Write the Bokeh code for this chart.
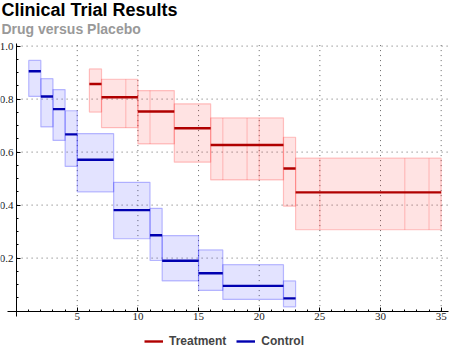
from bokeh.plotting import figure
from bokeh.models import FixedTicker, Label, Legend, LegendItem, ColumnDataSource, Range1d
from bokeh.embed import file_html
from bokeh.resources import INLINE

# ---- data (Kaplan-Meier estimates with confidence bands) ----
ctrl_start = [1, 2, 3, 4, 5, 8, 11, 12, 15, 17, 22]
ctrl_end = [2, 3, 4, 5, 8, 11, 12, 15, 17, 22, 23]
ctrl_surv = [0.905, 0.810, 0.762, 0.667, 0.571, 0.381, 0.286, 0.190, 0.143, 0.095, 0.048]
ctrl_lower = [0.810, 0.695, 0.644, 0.546, 0.450, 0.273, 0.191, 0.114, 0.078, 0.044, 0.016]
ctrl_upper = [0.946, 0.877, 0.836, 0.756, 0.670, 0.486, 0.388, 0.285, 0.231, 0.175, 0.114]

trt_start = [6, 7, 10, 13, 16, 22, 23]
trt_end = [7, 10, 13, 16, 22, 23, 35]
trt_surv = [0.857, 0.807, 0.753, 0.690, 0.627, 0.538, 0.448]
trt_lower = [0.751, 0.692, 0.631, 0.562, 0.495, 0.396, 0.307]
trt_upper = [0.914, 0.875, 0.832, 0.782, 0.729, 0.656, 0.577]
trt_censor = [9, 11, 17, 19, 20, 25, 32, 34]

x_ticks = [5, 10, 15, 20, 25, 30, 35]
y_ticks = [0.2, 0.4, 0.6, 0.8, 1.0]
y_tick_labels = ["0.2", "0.4", "0.6", "0.8", "1.0"]

series_names = ["Treatment", "Control"]
title_text = "Clinical Trial Results"
subtitle_text = "Drug versus Placebo"

RED = "#b00000"
BLUE = "#0000b0"

# plotting window (axes cross at the origin)
X_MIN, X_MAX = -0.75, 35.6
Y_MIN, Y_MAX = -0.02, 1.01

# the frame fills the whole canvas; titles and legend live inside it
p = figure(width=450, height=354, output_backend="svg", toolbar_location=None,
           x_range=Range1d(-1.327, 35.77), y_range=Range1d(-0.1638, 1.1721),
           min_border_left=0, min_border_right=0, min_border_top=0, min_border_bottom=0)
p.title.visible = False
p.outline_line_color = None
p.background_fill_color = "white"
p.xgrid.visible = False
p.ygrid.visible = False

# dotted grid lines, limited to the plotting window
p.segment(x0=x_ticks, y0=[0] * len(x_ticks), x1=x_ticks, y1=[Y_MAX] * len(x_ticks),
          line_color="#666666", line_dash="1 4", line_width=1)
p.segment(x0=[0] * len(y_ticks), y0=y_ticks, x1=[X_MAX] * len(y_ticks), y1=y_ticks,
          line_color="#666666", line_dash="1 4", line_width=1)

# confidence bands
ctrl_src = ColumnDataSource(dict(l=ctrl_start, r=ctrl_end, s=ctrl_surv, lo=ctrl_lower, hi=ctrl_upper))
trt_src = ColumnDataSource(dict(l=trt_start, r=trt_end, s=trt_surv, lo=trt_lower, hi=trt_upper))

p.quad(left="l", right="r", bottom="lo", top="hi", source=ctrl_src,
       fill_color="blue", fill_alpha=0.11, line_color="blue", line_alpha=0.25, line_width=1.2)
p.quad(left="l", right="r", bottom="lo", top="hi", source=trt_src,
       fill_color="red", fill_alpha=0.11, line_color="red", line_alpha=0.22, line_width=1.2)

# censoring marks on treatment band
def band_at(t, starts, ends, lows, highs):
    for s, e, lo, hi in zip(starts, ends, lows, highs):
        if s <= t < e:
            return lo, hi
    return lows[-1], highs[-1]

cx, clo, chi = [], [], []
for t in trt_censor:
    lo, hi = band_at(t, trt_start, trt_end, trt_lower, trt_upper)
    cx.append(t); clo.append(lo); chi.append(hi)
p.segment(x0=cx, y0=clo, x1=cx, y1=chi, line_color="red", line_alpha=0.18, line_width=1.2)

# estimates
r_ctrl = p.segment(x0="l", y0="s", x1="r", y1="s", source=ctrl_src, line_color=BLUE, line_width=2.4)
r_trt = p.segment(x0="l", y0="s", x1="r", y1="s", source=trt_src, line_color=RED, line_width=2.4)

# axes crossing at the origin
for ax in (p.xaxis[0], p.yaxis[0]):
    ax.fixed_location = 0
    ax.axis_line_color = "black"
    ax.axis_line_width = 1
    ax.major_tick_in = 4
    ax.major_tick_out = 0
    ax.minor_tick_in = 2
    ax.minor_tick_out = 0
    ax.major_tick_line_color = "black"
    ax.minor_tick_line_color = "black"
    ax.major_label_text_font = "Liberation Serif"
    ax.major_label_text_font_size = "11px"
    ax.major_label_text_color = "#222222"
    ax.major_label_standoff = 3
p.xaxis[0].bounds = (X_MIN, X_MAX)
p.yaxis[0].bounds = (Y_MIN, Y_MAX)
p.xaxis[0].major_label_standoff = 2

p.xaxis[0].ticker = FixedTicker(ticks=x_ticks, minor_ticks=list(range(1, 36)))
p.yaxis[0].ticker = FixedTicker(ticks=y_ticks, minor_ticks=[round(i * 0.05, 2) for i in range(1, 21)])
p.yaxis[0].major_label_overrides = {t: s for t, s in zip(y_ticks, y_tick_labels)}

# titles
p.add_layout(Label(x=1, y=344.5, x_units="screen", y_units="screen", text=title_text,
                   text_font="Liberation Sans", text_font_style="bold", text_font_size="18px",
                   text_color="black", text_baseline="alphabetic"))
p.add_layout(Label(x=1, y=326, x_units="screen", y_units="screen", text=subtitle_text,
                   text_font="Liberation Sans", text_font_style="bold", text_font_size="14px",
                   text_color="#999999", text_baseline="alphabetic"))

legend = Legend(items=[LegendItem(label=series_names[0], renderers=[r_trt]),
                       LegendItem(label=series_names[1], renderers=[r_ctrl])],
                orientation="horizontal", location=(144, 6),
                border_line_color=None, background_fill_alpha=0,
                label_text_font="Liberation Sans", label_text_font_style="bold",
                label_text_font_size="12px", glyph_width=19, glyph_height=14,
                label_height=14, label_standoff=6,
                spacing=10, padding=4, margin=0)
p.add_layout(legend, "center")

open("out.html", "w").write(file_html(p, INLINE))
